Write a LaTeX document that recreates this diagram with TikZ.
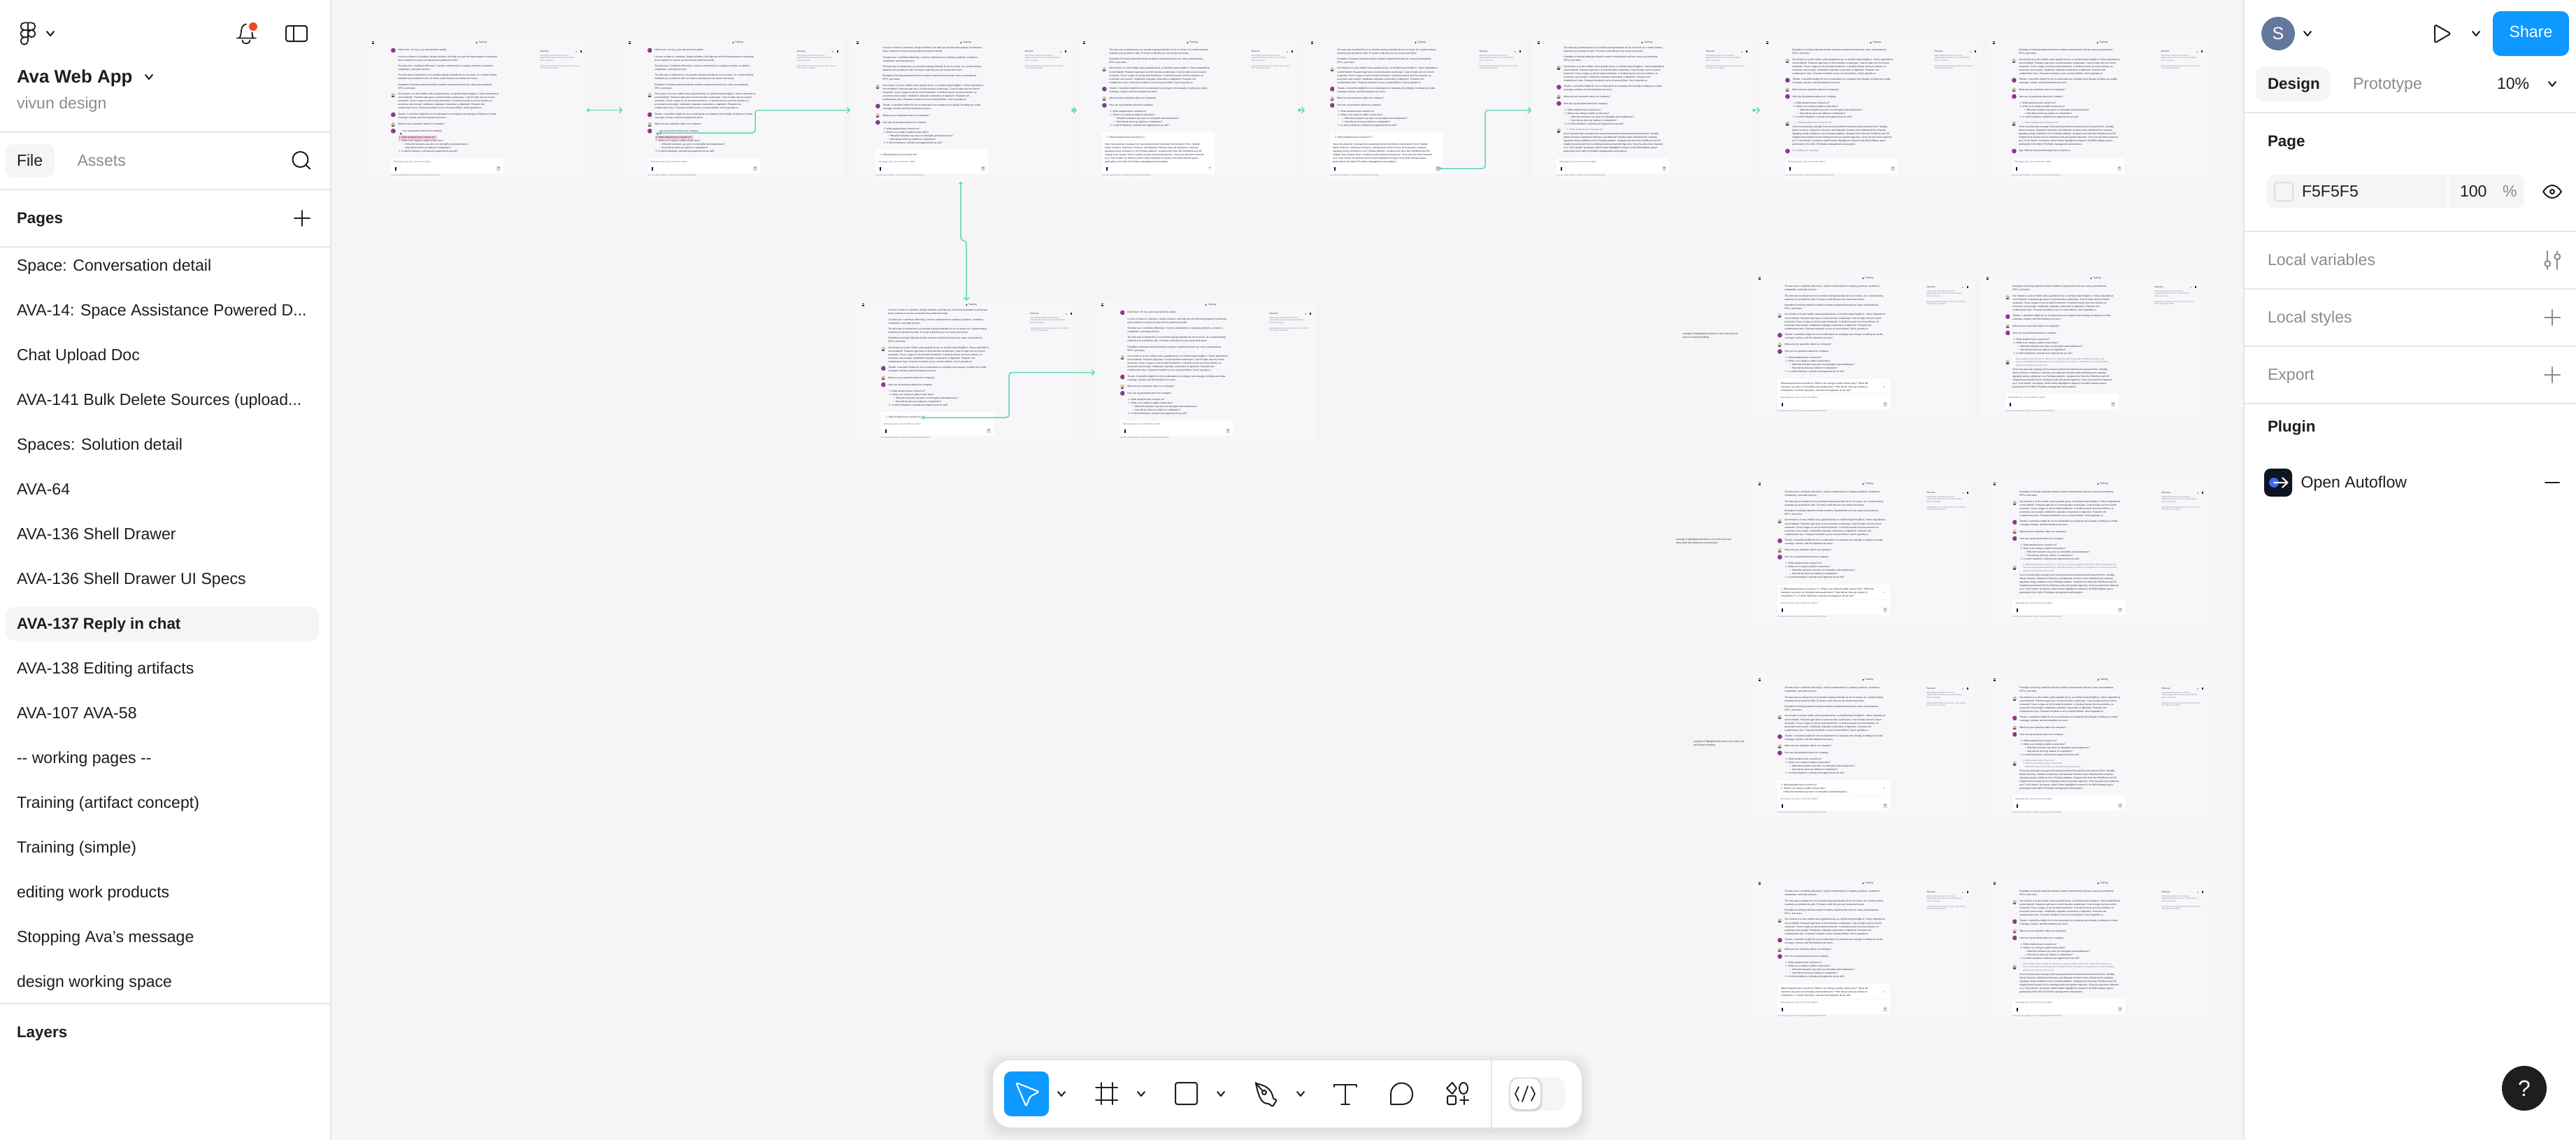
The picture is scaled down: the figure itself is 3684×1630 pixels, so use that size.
\documentclass[tikz,border=0pt]{standalone}
\usepackage{fontspec}
\setmainfont{Liberation Sans}
\usetikzlibrary{arrows.meta}
\definecolor{canvasc}{HTML}{F5F5F5}
\definecolor{framec}{HTML}{F7F7FA}
\definecolor{linec}{HTML}{E6E6E6}
\definecolor{inkc}{HTML}{1E1E1E}
\definecolor{greyc}{HTML}{8C8C8C}
\definecolor{bodyc}{HTML}{25253F}
\definecolor{softc}{HTML}{77778A}
\definecolor{tealc}{HTML}{5FD6B6}
\definecolor{pinkc}{HTML}{F2C9DD}
\definecolor{bluec}{HTML}{0D99FF}
\definecolor{avaL}{HTML}{B23A7E}
\definecolor{avaR}{HTML}{4B3EA8}
\definecolor{userc}{HTML}{64779C}
\definecolor{redc}{HTML}{F24822}
\definecolor{plugc}{HTML}{0D1521}
\definecolor{plugb}{HTML}{3E6BF5}
\newcount\lnc
\tikzset{
 tx/.style={inner sep=0pt,outer sep=0pt,anchor=west},
 bodyt/.style={font=\fontsize{3.3}{4}\selectfont,text=bodyc},
 softt/.style={font=\fontsize{3.3}{4}\selectfont,text=softc},
 quotet/.style={font=\fontsize{2.9}{3.5}\selectfont,text=softc},
 smallt/.style={font=\fontsize{2.6}{3}\selectfont,text=softc},
 uit/.style={font=\fontsize{23.1}{28}\selectfont,text=inkc,yshift=-1.7pt},
 uigrey/.style={font=\fontsize{23.1}{28}\selectfont,text=greyc,yshift=-1.7pt},
 uibold/.style={font=\fontsize{22.4}{28}\selectfont\bfseries,text=inkc,yshift=-1.7pt},
 frm/.style={fill=framec,draw=none,minimum width=316pt,minimum height=205pt,anchor=north west,inner sep=0pt,outer sep=0pt},
 conn/.style={draw=tealc,line width=1.5pt,rounded corners=4pt,{Circle[length=4.5pt]}-{Straight Barb[length=3.5pt,width=8pt]}},
 ico/.style={draw=inkc,line width=2pt,line cap=round,line join=round},
 icog/.style={draw=greyc,line width=2pt,line cap=round,line join=round},
 panelline/.style={draw=linec,line width=2pt},
}
\newcommand{\txl}[4][bodyt]{\global\advance\lnc by 1 \node[tx,#1] (ln\the\lnc) at ({#2},{#3}) {\vphantom{Ag}#4};}
\newcommand{\chev}[2]{\draw[ico,shift={(#1,#2)}] (-5,-3) -- (0,3) -- (5,-3);}
\newcommand{\plusic}[3][ico]{\draw[#1,shift={(#2,#3)}] (-11,0) -- (11,0) (0,-11) -- (0,11);}
\newcommand{\AvaAv}[2]{\shade[left color=avaL,right color=avaR] (#1,{#2}) circle (3.4);}
\newcommand{\UserAvB}[2]{\begin{scope}[shift={(#1,{#2})}]\fill[black!15] (0,0) circle (3.3);\fill[black!65] (-2,3) rectangle (2,0.8);\fill[brown!70!white] (0,-.6) ellipse (1.4 and 1.9);\end{scope}}
\newcommand{\Mic}[0]{\fill[black!70!blue] (41.8,183.5) rectangle (44.2,188.5);}
\newcommand{\SendBtn}[1][black!12]{\fill[#1,rounded corners=.8pt] (187,182.5) rectangle (193,189.5);\draw[black!55,line width=.4pt] (190,188) -- (190,184) (188.8,185.2) -- (190,184) -- (191.2,185.2);}
\newcommand{\InBox}[1]{\fill[white,rounded corners=1.5pt] (36.3,#1) rectangle (197,193);\Mic}
\newcommand{\PlaceH}{\txl[softt]{40.3}{177}{Message Ava, your technical copilot}}
\newcommand{\ChipQ}[2]{\fill[white,draw=black!8,line width=.3pt,rounded corners=1pt] (40.6,#1) rectangle (#2,{#1+8});\txl{43}{#1+4}{1. What analysts have covered us?}\txl{#2-4}{#1+4}{×}}
\newcommand{\QuoteBox}[3]{\fill[white,draw=black!6,line width=.4pt,rounded corners=1pt] (38.3,154) rectangle (193.5,171.3);\txl{41}{157}{#1}\txl{41}{162}{#2}\txl{41}{167}{#3}\txl{187}{162}{×}}
\newcommand{\FrameBegin}[3]{\node[frm] (#1) at (#2,#3) {};\begin{scope}[shift={(#2,#3)}]
 \draw[bodyc,line width=.5pt] (8.5,4.6) -- (11.5,4.6) (8.5,6) -- (11.5,6) (8.5,7.4) -- (11.5,7.4);
 \fill[bodyc] (158.5,6) circle (1.2);
 \txl{161}{6}{Training}
 \txl[softt]{245.5}{18.7}{\fontsize{2.5}{3}\selectfont ›}
 \txl{249.5}{18.7}{Sources}
 \fill[black!30] (299.7,17.5) rectangle (301.7,20);
 \fill[bodyc] (306.7,17.3) rectangle (308.7,20);
 \txl[smallt]{249.5}{24.7}{Add training materials for customer}
 \txl[smallt]{249.5}{28.3}{requirements and use cases, presentations,}
 \txl[smallt]{249.5}{32}{RFPs, and notes.}
 \txl[smallt]{249.5}{39.7}{Supports file formats such as PDF, DOC, DOCX,}
 \txl[smallt]{249.5}{43.3}{TXT, JSON, and HTML.}
 \txl[smallt]{36.3}{196.3}{Ava can make mistakes. Please check important information.}
}
\newcommand{\FrameEnd}{\end{scope}}
\newcommand{\ChatBody}[1]{\begin{scope}\clip (0,11) rectangle (316,205);\def\sft{#1}
 \AvaAv{39.3}{17+\sft}
 \txl{46.3}{17+\sft}{Hello Kevin, I'm Ava, your new technical copilot.}
 \txl{46.3}{26.3+\sft}{I'm here to listen to customers, design solutions, and help you and the team prepare to showcase}
 \txl{46.3}{31.3+\sft}{those solutions to ensure we become the preferred vendor.}
 \txl{46.3}{39.7+\sft}{To make sure I contribute effectively, I need to understand our company, products, customers,}
 \txl{46.3}{44.7+\sft}{competitors, and sales process.}
 \txl{46.3}{53+\sft}{The best way to onboard me is to provide training materials for me to review. As I review training}
 \txl{46.3}{58+\sft}{materials you provide me with, I'll create a wiki that you can review and revise.}
 \txl{46.3}{66.3+\sft}{Examples of training materials include customer requirements and use cases, presentations,}
 \txl{46.3}{71.3+\sft}{RFPs, and notes.}
 \UserAvB{39.3}{81+\sft}
 \txl{46.3}{79.7+\sft}{Our mission is to also mollen varius gravida lectus, eu facilisis turpis fringilla in. Donec imperdiet at}
 \txl{46.3}{85+\sft}{sem id blandit. Praesent eget lacus ut enim faucibus scelerisque. Cras id turpis sed orci rutrum}
 \txl{46.3}{90+\sft}{venenatis. Fusce congue ac elit sit amet fermentum. In facilisis mauris non risus ultricies, ac}
 \txl{46.3}{95+\sft}{accumsan erat suscipit. Vestibulum vulputate consectetur ut dignissim. Praesent non}
 \txl{46.3}{100+\sft}{condimentum risus. Praesent hendrerit ut arcu sit amet efficitur. Sed in gravida ex.}
 \AvaAv{39.3}{109+\sft}
 \txl{46.3}{108.3+\sft}{Thanks. It would be helpful for me to understand our company more deeply, including our media}
 \txl{46.3}{113.3+\sft}{coverage, reviews, and the industries we serve.}
 \UserAvB{39.3}{122.7+\sft}
 \txl{46.3}{122.7+\sft}{What are your questions about our company?}
 \AvaAv{39.3}{132.3+\sft}
 \txl{46.3}{132.7+\sft}{Here are my questions about our company:}
 \txl{47.7}{141.7+\sft}{1. What analysts have covered us?}
 \txl{47.7}{146.7+\sft}{2. What is our rating on public review sites?}
 \txl{54}{151.7+\sft}{•\ \ What did reviewers say were our strengths and weaknesses?}
 \txl{54}{156.7+\sft}{•\ \ How did we show up relative to competitors?}
 \txl{47.7}{161.7+\sft}{3. In which industries, verticals and segments do we sell?}
\end{scope}}
\newcommand{\Resp}[2]{\def\rx{#1}\def\ry{#2}
 \txl{\rx}{\ry}{Vivun has attracted coverage from several prominent investment and research firms. Notably,}
 \txl{\rx}{\ry+5}{Menlo Ventures, Salesforce Ventures, and Atlassian Ventures have all backed the company,}
 \txl{\rx}{\ry+10}{signaling strong confidence in its ProSales platform. Analysts from firms like PitchBook and CB}
 \txl{\rx}{\ry+15}{Insights have tracked Vivun's funding rounds and growth trajectory. Vivun has also been featured}
 \txl{\rx}{\ry+20}{as a "Cool Vendor" by Gartner, which further highlights its impact in the B2B software space,}
 \txl{\rx}{\ry+25}{particularly in the field of ProSales management and analytics.}}
\newcommand{\FrameHello}[3]{\FrameBegin{#1}{#2}{#3}\ChatBody{0}\InBox{171}\PlaceH\SendBtn\FrameEnd}
\newcommand{\FrameHl}[3]{\FrameBegin{#1}{#2}{#3}\fill[pinkc] (46.7,139) rectangle (101.7,144.7);\ChatBody{0}
 \fill[framec] (46,130.5) rectangle (52,135);\fill[black!85] (49.5,134) -- (49.5,138) -- (50.5,137) -- (52,137.5) -- cycle;\InBox{171}\PlaceH\SendBtn\FrameEnd}
\newcommand{\FrameChip}[4]{\FrameBegin{#1}{#2}{#3}\ChatBody{-12.3}\InBox{159}\ChipQ{162.7}{97}#4\PlaceH\SendBtn\FrameEnd}
\newcommand{\FrameTyped}[4]{\FrameBegin{#1}{#2}{#3}\ChatBody{-36.7}\InBox{134.3}\ChipQ{137.7}{99}\Resp{40}{152}#4\FrameEnd}
\newcommand{\FrameLongQ}[6]{\FrameBegin{#1}{#2}{#3}\ChatBody{-21.7}\InBox{149.7}\QuoteBox{#4}{#5}{#6}\PlaceH\SendBtn\FrameEnd}
\newcommand{\FrameReply}[6]{\FrameBegin{#1}{#2}{#3}\ChatBody{-48.3}\UserAvB{39.3}{125.5}\txl[quotet]{50.8}{121.7}{#4}\txl[quotet]{50.8}{126}{#5}\txl[quotet]{50.8}{130.3}{#6}\Resp{46.3}{137}\InBox{171}\PlaceH\SendBtn\FrameEnd}
\begin{document}
\begin{tikzpicture}[x=1pt,y=-1pt]
\useasboundingbox (0,0) rectangle (3684,1630);
\fill[canvasc] (0,0) rectangle (3684,1630);
% ---------- top row
\FrameHl{f1}{523}{55}
\FrameHl{f2}{890}{55}
\FrameChip{f3}{1216}{55}{}
\FrameTyped{f4}{1540}{55}{\SendBtn[white]}
\FrameTyped{f5}{1866}{55}{\SendBtn[pinkc]}
\FrameBegin{f6}{2190}{55}\ChatBody{-39.4}\UserAvB{39.3}{131.5}\txl[softt]{50.8}{130.7}{1. What analysts have covered us?}\Resp{46.3}{137}\InBox{171}\PlaceH\SendBtn\FrameEnd
\FrameBegin{f7}{2517}{55}\ChatBody{-49.3}\UserAvB{39.3}{121.5}\txl[softt]{50.8}{120.3}{1. What analysts have covered us?}\Resp{46.3}{126.7}\AvaAv{39.3}{161}\txl[softt]{46.3}{161}{Ah reading your message}\InBox{171}\PlaceH\SendBtn\FrameEnd
\FrameBegin{f8}{2841}{55}\ChatBody{-49.3}\UserAvB{39.3}{121.5}\txl[softt]{50.8}{120.3}{1. What analysts have covered us?}\Resp{46.3}{126.7}\AvaAv{39.3}{161}\txl{46.3}{161}{Ago. Without Ava would analysts have covered us.}\InBox{171}\PlaceH\SendBtn\FrameEnd
% ---------- second row middle
\FrameBegin{m1}{1224}{430}\ChatBody{-12.3}\InBox{159}\ChipQ{162.7}{97}\fill[pinkc] (93,164.5) rectangle (97.5,169);\PlaceH\SendBtn\FrameEnd
\FrameHello{m2}{1566}{430}
% ---------- right columns
\FrameLongQ{r1a}{2506}{392}{What analysts have covered us? What is our rating on public review sites? *What did}{reviewers say were our strengths and weaknesses? *How did we show up relative to}{competitors? In which industries, verticals and segments do we sell?}
\FrameReply{r1b}{2832}{392}{What analysts have covered us? What is our rating on public review sites? What did reviewers say}{were our strengths and weaknesses? How did we show up relative to competitors? In which industries,}{verticals and segments do we sell?}
\FrameLongQ{r2a}{2506}{686}{1. What analysts have covered us? 2. What is our rating on public review sites? *What did}{reviewers say were our strengths and weaknesses? *How did we show up relative to}{competitors? 3. In which industries, verticals and segments do we sell?}
\FrameReply{r2b}{2842}{686}{1. What analysts have covered us? 2. What is our rating on public review sites? What did reviewers say}{were our strengths and weaknesses? How did we show up relative to competitors? 3. In which industries,}{verticals and segments do we sell?}
\FrameLongQ{r3a}{2506}{966}{1. What analysts have covered us?}{2. What is our rating on public review sites?}{\ \ \ •\ What did reviewers say were our strengths and weaknesses?...}
\FrameReply{r3b}{2842}{966}{1. What analysts have covered us?}{\ 2. What is our rating on public review sites?}{\ \ \ •\ What did reviewers say were our strengths and weaknesses?}
\FrameLongQ{r4a}{2506}{1257}{What analysts have covered us? What is our rating on public review sites? *What did}{reviewers say were our strengths and weaknesses? *How did we show up relative to}{competitors? In which industries, verticals and segments do we sell?}
\FrameReply{r4b}{2842}{1257}{What analysts have covered us? What is our rating on public review sites? What did reviewers say}{were our strengths and weaknesses? How did we show up relative to competitors? In which industries,}{verticals and segments do we sell?}
% ---------- side notes
\txl{2406.5}{477.5}{example of highlighted text that is a lot in the chat and}
\txl{2406.5}{482.7}{does not retain formatting}
\txl{2397}{772}{example of highlighted text that is a lot in the chat and}
\txl{2397}{777}{does retain list format but not line breaks}
\txl{2422}{1061}{example of highlighted text that is a lot in the chat}
\txl{2422}{1066}{and keeps formatting}
% ---------- connectors
\coordinate (s2) at (942,190);
\coordinate (s5) at (2057,241);
\coordinate (sm1) at (1319,597);
\draw[conn] (f1.east) -- (f2.west);
\draw[conn] (s2) -- ++(138,0) |- (f3.west);
\draw[conn] (f3.east) -- (f4.west);
\draw[conn] (f4.east) -- (f5.west);
\draw[conn] (s5) -- ++(67,0) |- (f6.west);
\draw[conn] (f6.east) -- (f7.west);
\draw[conn] (f3.south) -- ++(0,84) -| (m1.north);
\draw[conn] (sm1) -- ++(124,0) |- (m2.west);
% ---------- left panel
\fill[white] (0,0) rectangle (472,1630);
\draw[panelline] (473,0) -- (473,1630);
\begin{scope}[ico,line width=1.8pt]
 \draw (40,32.5) -- (34.8,32.5) arc[start angle=-90,end angle=-270,radius=5.2] -- (40,42.9) -- cycle;
 \draw (40,32.5) -- (45.2,32.5) arc[start angle=-90,end angle=90,radius=5.2] -- (40,42.9) -- cycle;
 \draw (40,42.9) -- (34.8,42.9) arc[start angle=-90,end angle=-270,radius=5.2] -- (40,53.3) -- cycle;
 \draw (45.2,48.1) circle (5.2);
 \draw (40,53.3) -- (34.8,53.3) arc[start angle=-90,end angle=-270,radius=5.2] arc[start angle=90,end angle=0,radius=5.2] -- cycle;
\end{scope}
\chev{72}{48}
\draw[ico,line width=1.8pt] (339,54.5) -- (366,54.5) (342,54.5) .. controls (347,50) and (342,36) .. (352,34.5) (346.5,57.5) .. controls (347,64) and (357,64) .. (357.5,57.5);
\draw[ico] (362,54.5) .. controls (360,50) and (361,47) .. (360.5,45);
\fill[white] (362,38) circle (8);
\fill[redc] (362,38) circle (6);
\draw[ico,rounded corners=3pt] (409,37) rectangle (439,59);
\draw[ico] (420,37) -- (420,59);
\txl[font=\fontsize{25.9}{32}\selectfont\bfseries,text=inkc,yshift=-1.7pt]{24}{110}{Ava Web App}
\chev{213}{110}
\txl[uigrey]{24}{148}{vivun design}
\draw[panelline] (0,189) -- (472,189);
\fill[canvasc,rounded corners=11pt] (8,206) rectangle (78,254);
\txl[uit]{24}{230}{File}
\txl[uigrey]{110.5}{230}{Assets}
\draw[ico] (429.5,228) circle (11) (437.5,236) -- (443.5,241.5);
\draw[panelline] (0,271) -- (472,271);
\txl[uibold]{24}{312}{Pages}
\plusic{432}{312}
\draw[panelline] (0,353) -- (472,353);
\fill[canvasc,rounded corners=11pt] (8,868) rectangle (456,916);
\foreach \yy/\tt in {380/{Space: Conversation detail},444/{AVA-14: Space Assistance Powered D...},508/{Chat Upload Doc},572/{AVA-141 Bulk Delete Sources (upload...},636/{Spaces: Solution detail},700/{AVA-64},764/{AVA-136 Shell Drawer},828/{AVA-136 Shell Drawer UI Specs},956/{AVA-138 Editing artifacts},1020/{AVA-107 AVA-58},1084/{-{}- working pages -{}-},1148/{Training (artifact concept)},1212/{Training (simple)},1276/{editing work products},1340/{Stopping Ava's message},1404/{design working space}}{\txl[uit]{24}{\yy}{\tt}}
\txl[uibold]{24}{892}{AVA-137 Reply in chat}
\draw[panelline] (0,1435) -- (472,1435);
\txl[uibold]{24}{1476}{Layers}
% ---------- right panel
\fill[white] (3210,0) rectangle (3684,1630);
\draw[panelline] (3209,0) -- (3209,1630);
\fill[userc] (3258,48) circle (24);
\node[font=\fontsize{25}{30}\selectfont,text=white,inner sep=0pt] (avS) at (3258,48) {S};
\chev{3300}{48}
\draw[ico,rounded corners=3pt] (3482,35) -- (3505,48) -- (3482,61.5) -- cycle;
\chev{3541}{48}
\node[fill=bluec,rounded corners=11pt,minimum width=109pt,minimum height=64pt,inner sep=0pt,text=white,font=\fontsize{23.1}{28}\selectfont] (share) at (3619.5,48) {\vphantom{Ag}Share};
\fill[canvasc,rounded corners=11pt] (3226,96) rectangle (3332,144);
\txl[uibold]{3243}{120}{Design}
\txl[uigrey]{3365}{120}{Prototype}
\txl[uit]{3571}{120}{10\%}
\chev{3650}{120}
\draw[panelline] (3210,161) -- (3684,161);
\txl[uibold]{3243}{202}{Page}
\fill[canvasc,rounded corners=11pt] (3242,250) rectangle (3610,298);
\draw[draw=black!12,line width=2pt,rounded corners=3pt] (3253,261) rectangle (3279,287);
\txl[uit]{3292}{274}{F5F5F5}
\draw[white,line width=2pt] (3501,252) -- (3501,296);
\txl[uit]{3518}{274}{100}
\txl[uigrey]{3579}{274}{\%}
\draw[ico] (3637,274) .. controls (3645,262) and (3655,262) .. (3663,274) .. controls (3655,286) and (3645,286) .. (3637,274);
\draw[ico] (3650,274) circle (3);
\draw[panelline] (3210,331) -- (3684,331);
\txl[uigrey]{3243}{372}{Local variables}
\draw[icog] (3643.3,359) -- (3643.3,372) (3643.3,381) -- (3643.3,385) (3657.3,359) -- (3657.3,362) (3657.3,371) -- (3657.3,385);
\draw[icog] (3643.3,377) circle (4) (3657.3,367) circle (4);
\draw[panelline] (3210,413) -- (3684,413);
\txl[uigrey]{3243}{454}{Local styles}
\plusic[icog]{3650}{454}
\draw[panelline] (3210,495) -- (3684,495);
\txl[uigrey]{3243}{536}{Export}
\plusic[icog]{3650}{536}
\draw[panelline] (3210,577) -- (3684,577);
\txl[uibold]{3243}{610}{Plugin}
\fill[plugc,rounded corners=9pt] (3238,670) rectangle (3278,710);
\fill[plugb] (3252,690) circle (7);
\draw[white,line width=2pt,line cap=round,line join=round] (3252,690) -- (3271,690) (3264,683) -- (3271.5,690) -- (3264,697);
\txl[uit]{3290.5}{690}{Open Autoflow}
\draw[ico] (3640,690) -- (3660,690);
% ---------- toolbar
\foreach \dd in {14,10,6,3}{\fill[black,opacity=.018,rounded corners=26pt] (1420-\dd,1516+4-\dd) rectangle (2262+\dd,1612+4+\dd);}
\fill[white,rounded corners=26pt] (1420,1516) rectangle (2262,1612);
\fill[bluec,rounded corners=10pt] (1436,1532) rectangle (1500,1596);
\draw[white,line width=2pt,line join=round,rounded corners=2.5pt] (1453,1548) -- (1486,1561) -- (1473,1568) -- (1467.5,1582) -- cycle;
\chev{1518}{1564}\chev{1632}{1564}\chev{1746}{1564}\chev{1860}{1564}
\draw[ico] (1574.5,1548) -- (1574.5,1579) (1590.5,1548) -- (1590.5,1579) (1567,1555) -- (1598,1555) (1567,1572.5) -- (1598,1572.5);
\draw[ico,rounded corners=3pt] (1681,1548) rectangle (1712,1579);
\draw[ico,rounded corners=1pt] (1796,1549) .. controls (1808,1552) and (1818,1555) .. (1821,1571) -- (1826,1573) -- (1820,1582) -- (1814,1578) .. controls (1804,1578) and (1800,1568) .. cycle;
\draw[ico] (1796,1549) -- (1806,1560);
\draw[ico] (1808,1562) circle (3);
\draw[ico] (1908,1554) -- (1908,1551) -- (1940,1551) -- (1940,1554) (1924,1551) -- (1924,1579) (1918,1579) -- (1930,1579);
\draw[ico] (1989,1579) -- (1989,1564) arc[start angle=180,end angle=360,radius=15.5] .. controls (2020,1574) and (2014,1579) .. (2004,1579) -- cycle;
\draw[ico] (2077,1548) -- (2083,1556) -- (2077,1564) -- (2069,1556) -- cycle;
\draw[ico] (2093,1556) ellipse (6 and 8);
\draw[ico,rounded corners=2pt] (2070,1567) rectangle (2082,1579);
\draw[ico] (2088,1573) -- (2100,1573) (2094,1567) -- (2094,1579);
\draw[panelline] (2133,1516) -- (2133,1612);
\fill[canvasc,rounded corners=12pt] (2160,1540) rectangle (2238,1588);
\foreach \dd in {3,2,1}{\fill[black,opacity=.05,rounded corners=12pt] (2160-\dd,1542-\dd+1) rectangle (2203+\dd,1586+\dd+1);}
\fill[white,rounded corners=12pt] (2160,1542) rectangle (2203,1586);
\draw[ico,line width=1.7pt] (2172,1554) -- (2167,1564) -- (2172,1574) (2190,1554) -- (2195,1564) -- (2190,1574) (2185,1553) -- (2177,1575);
% ---------- help
\node[circle,fill=inkc,minimum size=64pt,inner sep=0pt,text=white,font=\fontsize{32}{36}\selectfont] (help) at (3610,1556) {?};
\end{tikzpicture}
\end{document}
